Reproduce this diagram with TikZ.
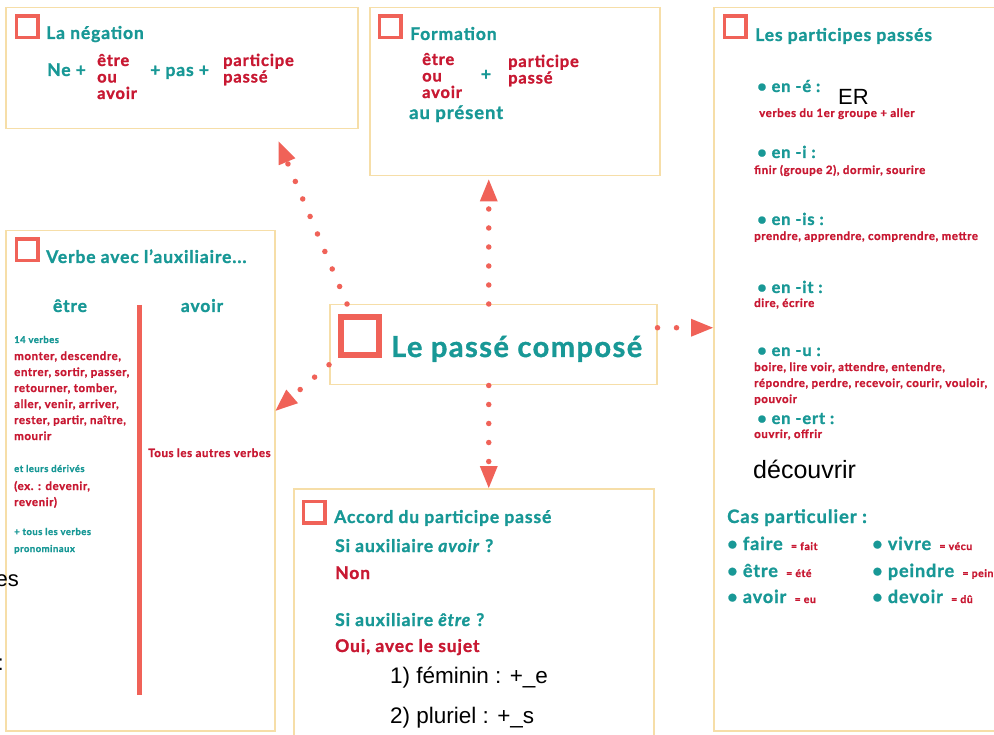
\documentclass[tikz,border=0pt]{standalone}
\usepackage{fontspec}
\setmainfont{Lato}[LetterSpace=5,BoldFeatures={FakeBold=1.2},BoldItalicFeatures={FakeBold=1.2}]
\newfontfamily\plainfont{Liberation Sans}
\usetikzlibrary{arrows.meta}
\definecolor{tealtxt}{RGB}{24,152,150}
\definecolor{redtxt}{RGB}{200,24,50}
\definecolor{coral}{RGB}{240,98,88}
\definecolor{sand}{RGB}{246,222,168}
\newcommand{\fsz}[2]{\fontsize{#1}{#2}\selectfont}

\begin{document}
\begin{tikzpicture}[x=1pt,y=-1pt,
    panel/.style={draw=sand,line width=1.5pt,anchor=north west,inner sep=0pt},
    tick/.style={draw=coral,line width=3.5pt,minimum size=21.5pt,inner sep=0pt},
    head/.style={text=tealtxt,font=\bfseries\fsz{17.5}{20},anchor=base west,inner sep=0pt},
    mid/.style={text=tealtxt,font=\bfseries\fsz{17.5}{20},anchor=base west,inner sep=0pt},
    stack/.style={text=redtxt,font=\bfseries\fsz{16.5}{16.5},anchor=base west,align=left,inner sep=0pt},
    item/.style={text=tealtxt,font=\bfseries\fsz{16.5}{18},anchor=base west,inner sep=0pt},
    note/.style={text=redtxt,font=\bfseries\fsz{11.5}{16},anchor=base west,align=left,inner sep=0pt},
    tnote/.style={text=tealtxt,font=\bfseries\fsz{9.5}{17},anchor=base west,align=left,inner sep=0pt},
    plain/.style={font=\plainfont\fsz{22.5}{26},anchor=base west,inner sep=0pt},
    link/.style={draw=coral,line width=5.5pt,line cap=round,dash pattern=on 0pt off 19pt,
                 -{Triangle[width=18pt,length=22pt,line width=0pt]}},
    rule/.style={draw=coral,line width=5pt}]

  \useasboundingbox (0,0) rectangle (994,735);
  \fill[white] (0,0) rectangle (994,735);

  % la negation
  \node[panel, minimum width=352pt, minimum height=121pt] (neg) at (5,7) {};
  \node[tick] (negtick) at (27,27) {};
  \node[head] (negtitle) at (46,39) {La négation};
  \node[mid] (ne) at (47,76) {Ne +};
  \node[stack] (negaux) at (97,99) {être\\ou\\avoir};
  \node[mid] (pas) at (150,76) {+ pas +};
  \node[stack] (negpp) at (223,82.5) {participe\\passé};

  % formation
  \node[panel, minimum width=290pt, minimum height=168pt] (form) at (369,7) {};
  \node[tick] (formtick) at (390,27) {};
  \node[head] (formtitle) at (410,40) {Formation};
  \node[stack] (formaux) at (422,98) {être\\ou\\avoir};
  \node[mid,anchor=center] (plus) at (486,75) {+};
  \node[stack] (formpp) at (508,83.5) {participe\\passé};
  \node[mid,font=\bfseries\fsz{18.5}{20}] (present) at (409,119) {au présent};

  % participes passes
  \node[panel, minimum width=300pt, minimum height=723pt] (pp) at (713,7) {};
  \node[tick] (pptick) at (735,27) {};
  \node[head] (pptitle) at (755,41) {Les participes passés};
  \node[item] (ene) at (757,92) {• en -é :};
  \node[plain,font=\plainfont\fsz{22}{26}] (er) at (838,105) {ER};
  \node[note] (enetxt) at (759,117) {verbes du 1er groupe + aller};
  \node[item] (eni) at (757,158) {• en -i :};
  \node[note] (enitxt) at (754,174) {finir (groupe 2), dormir, sourire};
  \node[item] (enis) at (757,225) {• en -is :};
  \node[note] (enistxt) at (754,240) {prendre, apprendre, comprendre, mettre};
  \node[item] (enit) at (757,293) {• en -it :};
  \node[note] (enittxt) at (754,307) {dire, écrire};
  \node[item] (enu) at (757,356) {• en -u :};
  \node[note] (enutxt) at (754,403) {boire, lire voir, attendre, entendre,\\répondre, perdre, recevoir, courir, vouloir,\\pouvoir};
  \node[item] (enert) at (757,424) {• en -ert :};
  \node[note] (enerttxt) at (754,438) {ouvrir, offrir};
  \node[plain,font=\plainfont\fsz{25}{28}] (decouvrir) at (753,478) {découvrir};
  \node[head,font=\bfseries\fsz{18.5}{20}] (cas) at (727,523) {Cas particulier :};
  \node[item,font=\bfseries\fsz{18}{20}] (faire) at (727,550) {• faire {\color{redtxt}\fsz{10.5}{10} = fait}};
  \node[item,font=\bfseries\fsz{18}{20}] (etre) at (727,577) {• être {\color{redtxt}\fsz{10.5}{10} = été}};
  \node[item,font=\bfseries\fsz{18}{20}] (avoir) at (727,603) {• avoir {\color{redtxt}\fsz{10.5}{10} = eu}};
  \node[item,font=\bfseries\fsz{18}{20}] (vivre) at (872,550) {• vivre {\color{redtxt}\fsz{10.5}{10} = vécu}};
  \node[item,font=\bfseries\fsz{18}{20}] (peindre) at (872,577) {• peindre {\color{redtxt}\fsz{10.5}{10} = peint}};
  \node[item,font=\bfseries\fsz{18}{20}] (devoir) at (872,603) {• devoir {\color{redtxt}\fsz{10.5}{10} = dû}};

  % auxiliaire
  \node[panel, minimum width=269pt, minimum height=500pt] (aux) at (5,230) {};
  \node[tick] (auxtick) at (27,250) {};
  \node[head] (auxtitle) at (46,263) {Verbe avec l’auxiliaire...};
  \node[mid,anchor=base] (coletre) at (70,312) {être};
  \node[mid,anchor=base] (colavoir) at (202,312) {avoir};
  \coordinate (septop) at (139,305);
  \coordinate (sepbot) at (139,695);
  \draw[rule] (septop) -- (sepbot);
  \node[tnote] (quatorze) at (14,343) {14 verbes};
  \node[note] (liste) at (14,440) {monter, descendre,\\entrer, sortir, passer,\\retourner, tomber,\\aller, venir, arriver,\\rester, partir, naître,\\mourir};
  \node[tnote] (derives) at (14,472) {et leurs dérivés};
  \node[note] (exemple) at (14,506) {(ex. : devenir,\\revenir)};
  \node[tnote] (pronom) at (14,552) {+ tous les verbes\\pronominaux};
  \node[note] (autres) at (148,457) {Tous les autres verbes};
  \node[plain,font=\plainfont\fsz{22}{26},anchor=base east] (es) at (19,586) {es};
  \node[plain,font=\plainfont\fsz{22}{26},anchor=base east] (colon) at (4,670) {:};

  % centre
  \node[panel, minimum width=327pt, minimum height=80pt] (title) at (329,304) {};
  \node[tick,line width=6pt,minimum size=38pt] (titletick) at (360,336) {};
  \node[head,font=\bfseries\fsz{29}{34}] (titletxt) at (391,357) {Le passé composé};

  % accord
  \node[panel, minimum width=360pt, minimum height=260pt] (acc) at (293,488) {};
  \node[tick] (acctick) at (314,512) {};
  \node[head] (acctitle) at (334,523) {Accord du participe passé};
  \node[mid] (siavoir) at (335,552) {Si auxiliaire \textit{avoir} ?};
  \node[mid,text=redtxt] (non) at (335,579) {Non};
  \node[mid] (sietre) at (335,626) {Si auxiliaire \textit{être} ?};
  \node[mid,text=redtxt] (oui) at (335,652) {Oui, avec le sujet};
  \node[plain] (fem) at (390,683) {1) féminin : +\_e};
  \node[plain] (plur) at (390,723) {2) pluriel : +\_s};

  \draw[link] ([xshift=18pt]title.north west) -- ([xshift=-80pt,yshift=-12pt]neg.south east);
  \draw[link] ([xshift=-4.5pt]title.north) -- ([xshift=-26pt,yshift=-3pt]form.south);
  \draw[link] ([yshift=17pt]title.east) -- ([yshift=41.5pt]pp.west);
  \draw[link] ([yshift=-20pt]title.west) -- ([yshift=70pt]aux.east);
  \draw[link] ([xshift=-4.5pt]title.south) -- ([xshift=15pt]acc.north);
\end{tikzpicture}
\end{document}
